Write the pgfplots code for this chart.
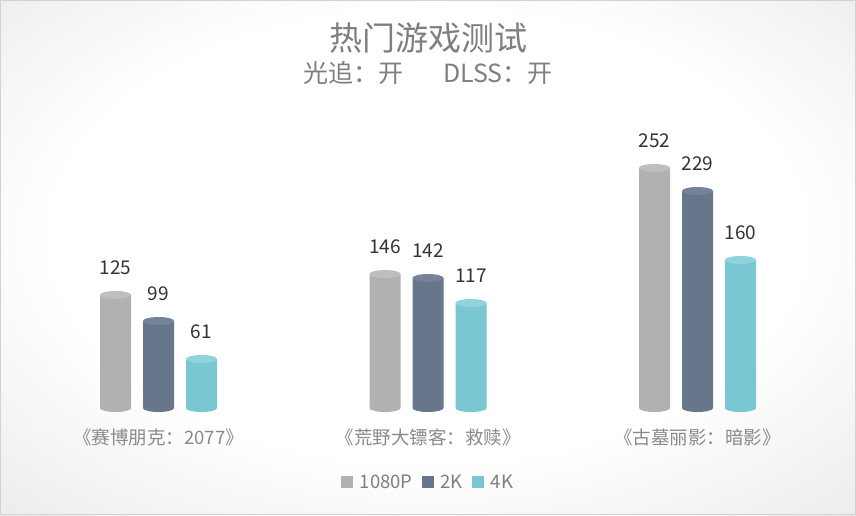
\documentclass[border=0pt]{standalone}
\usepackage{fontspec}
\setmainfont{Noto Sans CJK SC}
\usepackage{pgfplots}
\pgfplotsset{compat=1.18}

\definecolor{c1080}{HTML}{B1B1B1}
\definecolor{c2k}{HTML}{67768A}
\definecolor{c4k}{HTML}{79C7D3}
\definecolor{cap1080}{HTML}{BEBEBE}
\definecolor{cap2k}{HTML}{74839A}
\definecolor{cap4k}{HTML}{8FD3DD}
\definecolor{txtgray}{HTML}{7F7F7F}
\definecolor{labgray}{HTML}{8A8A8A}
\definecolor{numcol}{HTML}{333333}
\definecolor{bgmid}{HTML}{DADADA}
\definecolor{bgedge}{HTML}{C4C4C4}

\pgfdeclareradialshading{bgshade}{\pgfpoint{0bp}{3bp}}{color(0bp)=(white); color(22bp)=(white); color(50bp)=(bgmid); color(71bp)=(bgedge)}

% ellipse used for the top and bottom of each cylinder
\pgfdeclareplotmark{cyl}{%
  \pgfpathellipse{\pgfpointorigin}{\pgfqpoint{15.5pt}{0pt}}{\pgfqpoint{0pt}{4pt}}%
  \pgfusepathqfill}

\begin{document}
\begin{tikzpicture}
\useasboundingbox (0,0) rectangle (856pt,515pt);
\shade[shading=bgshade] (0,0) rectangle (856pt,515pt);
\draw[gray!35, line width=1pt] (0.5pt,0.5pt) rectangle (855.5pt,514.5pt);

\node[text=txtgray, font=\fontsize{33pt}{36pt}\selectfont] at (428pt,477pt) {热门游戏测试};
\node[text=txtgray, font=\fontsize{25pt}{28pt}\selectfont] at (428pt,442pt) {光追：开\hspace{40pt}DLSS：开};

\begin{axis}[
  at={(23.75pt,107pt)}, anchor=south west,
  scale only axis, width=808.5pt, height=288pt,
  xmin=-0.5, xmax=2.5, ymin=12, ymax=300,
  axis line style={draw=none}, tick style={draw=none},
  ytick=\empty,
  xtick={0,1,2},
  xticklabels={《赛博朋克：2077》,《荒野大镖客：救赎》,《古墓丽影：暗影》},
  xticklabel style={anchor=center, yshift=-29pt, text=labgray,
    font=\fontsize{18.5pt}{22pt}\selectfont},
  /pgf/number format/assume math mode=true,
  legend image code/.code={\fill[#1] (0pt,-6pt) rectangle (12pt,6pt);},
  legend style={at={(0.5,-0.257)}, anchor=center, draw=none, fill=none,
    legend columns=-1, text=txtgray, font=\fontsize{18.5pt}{22pt}\selectfont,
    /tikz/every even column/.append style={column sep=7pt},
    /tikz/every odd column/.append style={column sep=5pt}},
  every node near coord/.append style={anchor=base, yshift=21pt,
    text=numcol, font=\fontsize{19pt}{22pt}\selectfont},
]
% 1080P
\addplot[ybar, bar width=31pt, bar shift=-43pt, fill=c1080, draw=none,
  forget plot, nodes near coords,
  every node near coord/.append style={xshift=-43pt}]
  coordinates {(0,125) (1,146) (2,252)};
\addplot[only marks, mark=cyl, mark options={xshift=-43pt, fill=c1080, draw=none},
  forget plot] coordinates {(0,12) (1,12) (2,12)};
\addplot[only marks, mark=cyl, mark options={xshift=-43pt, fill=cap1080, draw=none},
  forget plot] coordinates {(0,125) (1,146) (2,252)};
% 2K
\addplot[ybar, bar width=31pt, bar shift=0pt, fill=c2k, draw=none,
  forget plot, nodes near coords] coordinates {(0,99) (1,142) (2,229)};
\addplot[only marks, mark=cyl, mark options={fill=c2k, draw=none},
  forget plot] coordinates {(0,12) (1,12) (2,12)};
\addplot[only marks, mark=cyl, mark options={fill=cap2k, draw=none},
  forget plot] coordinates {(0,99) (1,142) (2,229)};
% 4K
\addplot[ybar, bar width=31pt, bar shift=43pt, fill=c4k, draw=none,
  forget plot, nodes near coords,
  every node near coord/.append style={xshift=43pt}]
  coordinates {(0,61) (1,117) (2,160)};
\addplot[only marks, mark=cyl, mark options={xshift=43pt, fill=c4k, draw=none},
  forget plot] coordinates {(0,12) (1,12) (2,12)};
\addplot[only marks, mark=cyl, mark options={xshift=43pt, fill=cap4k, draw=none},
  forget plot] coordinates {(0,61) (1,117) (2,160)};

\addlegendimage{fill=c1080, draw=none}
\addlegendimage{fill=c2k, draw=none}
\addlegendimage{fill=c4k, draw=none}
\legend{1080P,2K,4K}
\end{axis}
\end{tikzpicture}
\end{document}
